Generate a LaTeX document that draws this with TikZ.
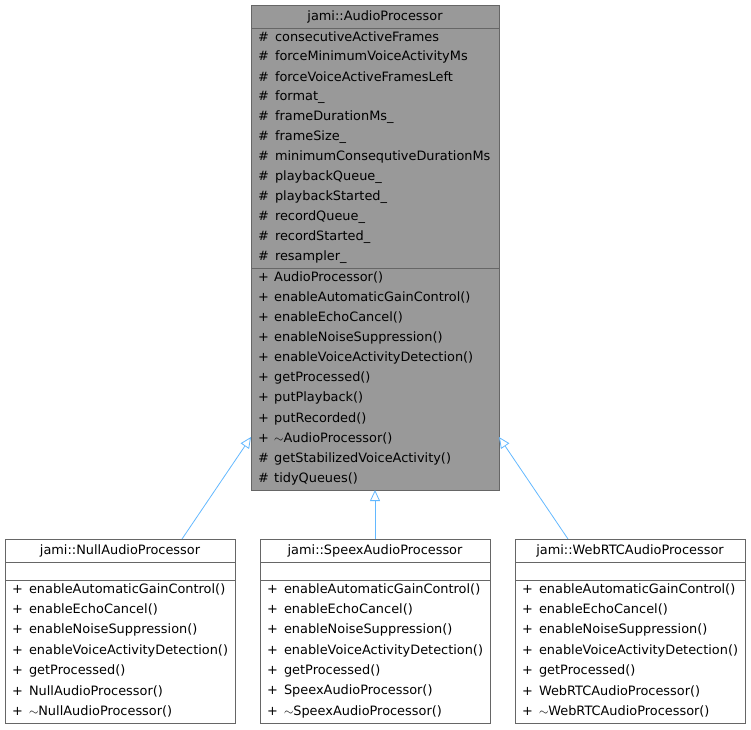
\documentclass[tikz,border=0pt]{standalone}
\usepackage{fontspec}
\setmainfont{DejaVu Sans}
\usetikzlibrary{arrows.meta}
\definecolor{boxline}{HTML}{666666}
\definecolor{boxgray}{HTML}{999999}
\definecolor{inherit}{HTML}{63B8FF}
\tikzset{
  classbox/.style={draw=boxline, line width=0.8pt},
  member/.style={anchor=west, inner sep=0pt, font=\fontsize{12.9}{14}\selectfont},
  title/.style={inner sep=0pt, font=\fontsize{12.9}{14}\selectfont},
  derive/.style={draw=inherit, line width=0.8pt, -{Triangle[open, length=11pt, width=10pt, fill=white]}}
}
\begin{document}
\begin{tikzpicture}[x=1pt,y=-1pt]
\useasboundingbox (0,0) rectangle (751,729);
% base class
\draw[classbox, fill=boxgray] (251,5) rectangle (499,490);
\draw[draw=boxline, line width=0.8pt] (251,28) -- (499,28) (251,268) -- (499,268);
\node[title] (base) at (375,16.5) {jami::AudioProcessor};
\coordinate (basebot) at (375,490);
\coordinate (baseleft) at (251,437);
\coordinate (baseright) at (499,437);
\foreach \t [count=\i] in {consecutiveActiveFrames, forceMinimumVoiceActivityMs, forceVoiceActiveFramesLeft, format\_, frameDurationMs\_, frameSize\_, minimumConsequtiveDurationMs, playbackQueue\_, playbackStarted\_, recordQueue\_, recordStarted\_, resampler\_}
  \node[member] at (258,17+20*\i) {\#\hspace{6pt}\t};
\foreach \s/\t [count=\i] in {+/AudioProcessor(), +/enableAutomaticGainControl(), +/enableEchoCancel(), +/enableNoiseSuppression(), +/enableVoiceActivityDetection(), +/getProcessed(), +/putPlayback(), +/putRecorded(), +/{$\sim$}AudioProcessor(), \#/getStabilizedVoiceActivity(), \#/tidyQueues()}
  \node[member] at (258,257+20.2*\i) {\makebox[10pt][l]{\s}\hspace{6pt}\t};
% derived classes
\foreach \x/\n in {5/Null, 260/Speex, 515/WebRTC} {
  \draw[classbox, fill=white] (\x,539) rectangle ++(230,184);
  \draw[draw=boxline, line width=0.8pt] (\x,562) -- ++(230,0) (\x,580) -- ++(230,0);
  \node[title] (\n) at (\x+115,550.5) {jami::\n AudioProcessor};
  \foreach \t [count=\i] in {enableAutomaticGainControl(), enableEchoCancel(), enableNoiseSuppression(), enableVoiceActivityDetection(), getProcessed(), \n AudioProcessor(), {$\sim$}\n AudioProcessor()}
    \node[member] at (\x+7,569+20.4*\i) {+\hspace{6pt}\t};
}
\coordinate (nulltop) at (182,539);
\coordinate (speextop) at (375,539);
\coordinate (webrtctop) at (568,539);
\draw[derive] (nulltop) -- (baseleft);
\draw[derive] (speextop) -- (basebot);
\draw[derive] (webrtctop) -- (baseright);
\end{tikzpicture}
\end{document}
